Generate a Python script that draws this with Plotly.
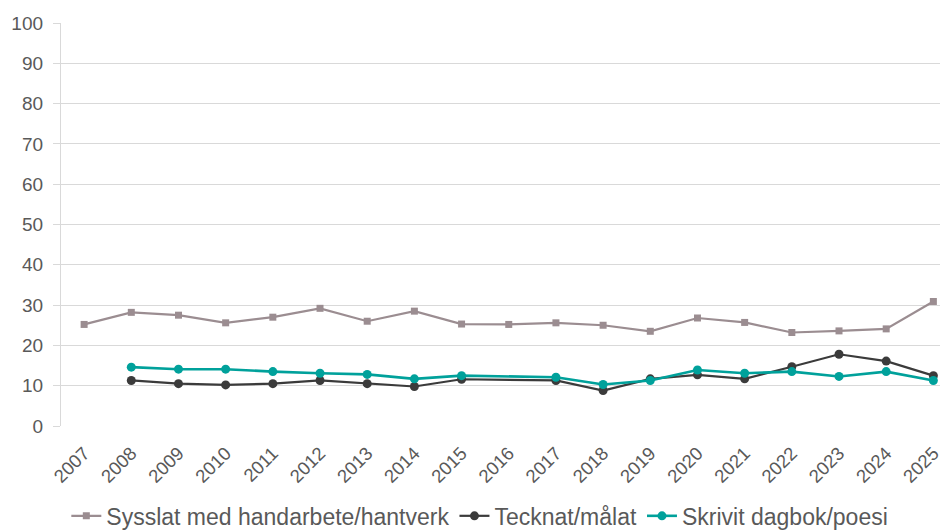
import plotly.graph_objects as go

years = [str(y) for y in range(2007, 2026)]
handarbete = [25.2, 28.2, 27.5, 25.6, 27.0, 29.2, 26.0, 28.5, 25.3, 25.2, 25.6, 25.0, 23.5, 26.8, 25.7, 23.2, 23.6, 24.1, 30.9]
tecknat = [None, 11.3, 10.5, 10.2, 10.5, 11.3, 10.5, 9.8, 11.6, None, 11.3, 8.8, 11.7, 12.7, 11.7, 14.7, 17.8, 16.1, 12.5]
dagbok = [None, 14.6, 14.1, 14.1, 13.5, 13.1, 12.8, 11.7, 12.5, None, 12.1, 10.3, 11.3, 13.9, 13.1, 13.5, 12.3, 13.5, 11.3]
names = ["Sysslat med handarbete/hantverk", "Tecknat/målat", "Skrivit dagbok/poesi"]
colors = ["#9b8d91", "#3b3b3b", "#00a19b"]

fig = go.Figure()
fig.add_trace(go.Scatter(x=years, y=handarbete, name=names[0], mode="lines+markers",
                         line=dict(color=colors[0], width=2.2),
                         marker=dict(symbol="square", size=7, color=colors[0]),
                         connectgaps=True))
fig.add_trace(go.Scatter(x=years, y=tecknat, name=names[1], mode="lines+markers",
                         line=dict(color=colors[1], width=2.2),
                         marker=dict(symbol="circle", size=9, color=colors[1]),
                         connectgaps=True))
fig.add_trace(go.Scatter(x=years, y=dagbok, name=names[2], mode="lines+markers",
                         line=dict(color=colors[2], width=2.6),
                         marker=dict(symbol="circle", size=9, color=colors[2]),
                         connectgaps=True))

fig.update_layout(
    width=940, height=523,
    margin=dict(l=53, r=0, t=15, b=105, autoexpand=False),
    paper_bgcolor="white", plot_bgcolor="white",
    font=dict(family="Liberation Sans, Arial, sans-serif", color="#595959", size=19),
    showlegend=True,
    legend=dict(orientation="h", x=0.006, xanchor="left", y=-0.223, yanchor="middle",
                font=dict(size=23, color="#595959"), itemwidth=30, tracegroupgap=0),
    xaxis=dict(type="category", range=[-0.49, 18.31], tickangle=-45,
               tickfont=dict(size=18.5, color="#595959"), showgrid=False,
               showline=False, ticks="", zeroline=False, automargin=False,
               ticklabelstandoff=12),
    yaxis=dict(range=[0, 100], dtick=10, tickfont=dict(size=19, color="#595959"),
               showgrid=True, gridcolor="#d9d9d9", gridwidth=1.3,
               showline=True, linecolor="#d9d9d9", linewidth=1.3,
               ticks="outside", ticklen=7, tickcolor="#d9d9d9", tickwidth=1.3,
               ticklabelstandoff=6, zeroline=False, automargin=False),
)

fig.write_html("out.html")
